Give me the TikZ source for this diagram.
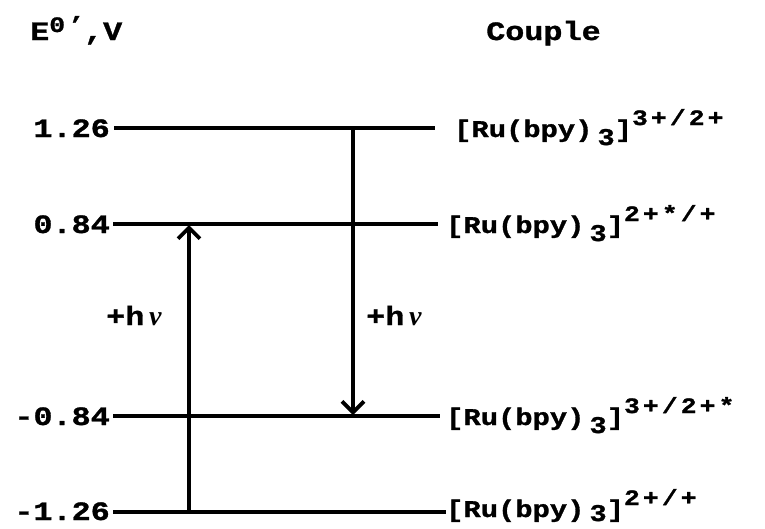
\documentclass[tikz,border=0pt]{standalone}
\usepackage{fontspec}
\usetikzlibrary{arrows.meta}
\newfontfamily\lmono[FakeStretch=1.2,FakeBold=1.2]{Liberation Mono}
\newfontfamily\lmonosup[FakeStretch=1.2,FakeBold=1.2,LetterSpace=14]{Liberation Mono}
\newfontfamily\greekserif{Liberation Serif}
\newcommand\supft{\lmonosup\bfseries\fontsize{22}{26}\selectfont}
\newcommand\ruform[2][8pt]{[Ru(bpy)\raisebox{-#1}{\hspace{5pt}3}]\raisebox{12pt}{\supft #2}}
\newcommand\hnu{+h{\greekserif\bfseries\itshape\fontsize{28}{30}\selectfont\,ν}}
\tikzset{
  bigtxt/.style={inner sep=0pt, font=\lmono\bfseries\fontsize{26.5}{30}\selectfont},
  formtxt/.style={inner sep=0pt, font=\lmono\bfseries\fontsize{24}{28}\selectfont},
  lvl/.style={line width=3.6pt},
  photon/.style={line width=3.8pt, -{Straight Barb[length=11pt,width=22pt]}}
}
\begin{document}
\begin{tikzpicture}[x=1pt,y=-1pt]
\useasboundingbox (0,0) rectangle (765,528);
% headings
\node[bigtxt, anchor=base west] (tE) at (30,40) {E\raisebox{8pt}{\supft 0’},V};
\node[bigtxt, anchor=base west] (tC) at (486,40) {Couple};
% level coordinates
\coordinate (l1) at (114,128); \coordinate (r1) at (435,128);
\coordinate (l2) at (113,224); \coordinate (r2) at (438,224);
\coordinate (l3) at (113,416); \coordinate (r3) at (440,416);
\coordinate (l4) at (113,512); \coordinate (r4) at (446,512);
% values
\node[bigtxt, anchor=base east] (v1) at (110,137) {1.26};
\node[bigtxt, anchor=base east] (v2) at (110,233) {0.84};
\node[bigtxt, anchor=base east] (v3) at (110,425) {-0.84};
\node[bigtxt, anchor=base east] (v4) at (110,520) {-1.26};
% couples
\node[formtxt, anchor=base west] (c1) at (454,137) {\ruform{3+/2+}};
\node[formtxt, anchor=base west] (c2) at (446,233) {\ruform{2+*/+}};
\node[formtxt, anchor=base west] (c3) at (446,425) {\ruform{3+/2+*}};
\node[formtxt, anchor=base west] (c4) at (446,517) {\ruform[4pt]{2+/+}};
% level lines
\draw[lvl] (l1) -- (r1);
\draw[lvl] (l2) -- (r2);
\draw[lvl] (l3) -- (r3);
\draw[lvl] (l4) -- (r4);
% photon arrows
\coordinate (u1) at (189,512); \coordinate (u2) at (189,225);
\coordinate (d1) at (353,128); \coordinate (d2) at (353,415);
\draw[photon] (u1) -- (u2);
\draw[photon] (d1) -- (d2);
\node[bigtxt, anchor=base west] (h1) at (106,325) {\hnu};
\node[bigtxt, anchor=base west] (h2) at (366,325) {\hnu};
\end{tikzpicture}
\end{document}
